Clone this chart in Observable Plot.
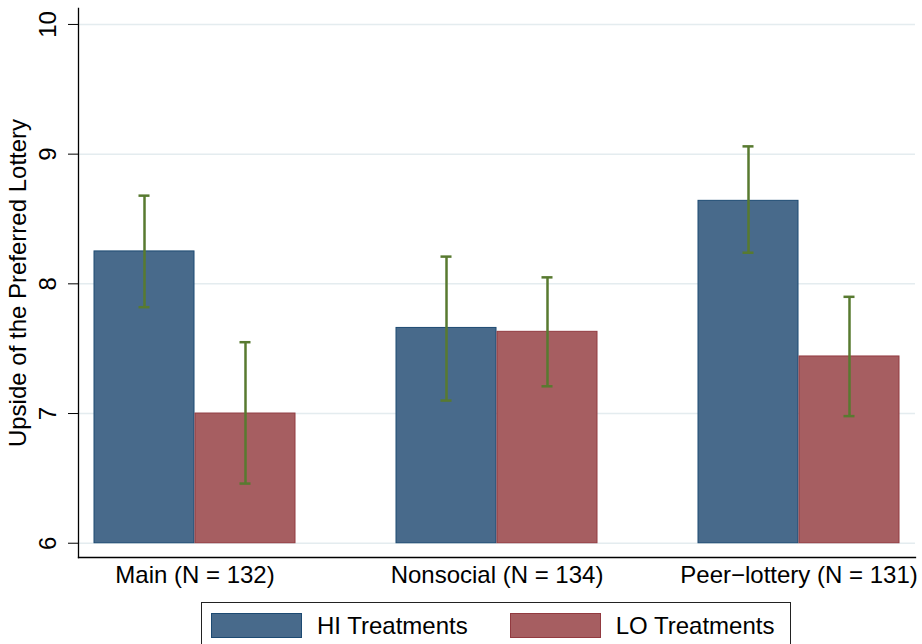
<!DOCTYPE html>
<html>
<head>
<meta charset="utf-8">
<script src="https://cdn.jsdelivr.net/npm/d3@7"></script>
<script src="https://cdn.jsdelivr.net/npm/@observablehq/plot@0.6"></script>
<style>
  html, body { margin: 0; padding: 0; background: #fff; }
  body { width: 922px; height: 644px; position: relative; overflow: hidden;
         font-family: "Liberation Sans", Arial, Helvetica, sans-serif; }
  #chart { position: absolute; left: 0; top: 0; }
  #legend { position: absolute; left: 201px; top: 602px; width: 590px; height: 60px;
            border: 1.3px solid #222; box-sizing: border-box; display: flex;
            align-items: flex-start; padding: 10px 0 0 9px; }
  .item { display: flex; align-items: center; height: 25px; }
  .item + .item { margin-left: 42px; }
  .swatch { width: 91px; height: 25px; box-sizing: border-box; margin-right: 15px; }
  .label { font-size: 24px; color: #000; line-height: 25px; }
</style>
</head>
<body>
<div id="chart"></div>
<div id="legend"></div>
<script>
// Treatment groups (with sample sizes) and the two series within each group
const groups = ["Main (N = 132)", "Nonsocial (N = 134)", "Peer\u2212lottery (N = 131)"];
const series = ["HI Treatments", "LO Treatments"];

// Mean upside of the preferred lottery, with confidence-interval bounds
const hiMeans = [8.25, 7.66, 8.64];
const hiLower = [7.82, 7.10, 8.24];
const hiUpper = [8.68, 8.21, 9.06];
const loMeans = [7.00, 7.63, 7.44];
const loLower = [6.46, 7.21, 6.98];
const loUpper = [7.55, 8.05, 7.90];

const yTicks = [6, 7, 8, 9, 10];
const baseline = 6;

const fills = ["#486a8b", "#a65e61"];
const strokes = ["#1d4a72", "#923a40"];
const ciColor = "#587a30";
const capWidth = 12;

const W = 922, H = 592, mL = 78, mR = 7, mT = 8, mB = 35;

// Group band scale; each band holds the HI bar (left half) and LO bar (right half)
const xOptions = {domain: groups, paddingInner: 0.333, paddingOuter: 0.0485, axis: null, label: null};
const bw = Plot.scale({x: {type: "band", ...xOptions, range: [mL, W - mR]}}).bandwidth;
const half = bw / 2;

const hiRows = groups.map((g, i) => ({group: g, value: hiMeans[i], lo: hiLower[i], hi: hiUpper[i]}));
const loRows = groups.map((g, i) => ({group: g, value: loMeans[i], lo: loLower[i], hi: loUpper[i]}));

function seriesMarks(rows, k) {
  // k = 0 draws in the left half of the band, k = 1 in the right half
  const barInset = k === 0 ? {insetRight: half} : {insetLeft: half};
  const capInset = k === 0
    ? {insetLeft: half / 2 - capWidth / 2, insetRight: half * 1.5 - capWidth / 2}
    : {insetLeft: half * 1.5 - capWidth / 2, insetRight: half / 2 - capWidth / 2};
  const shift = (k === 0 ? -1 : 1) * half / 2;
  return [
    Plot.barY(rows, {x: "group", y1: baseline, y2: "value", fill: fills[k], stroke: strokes[k], strokeWidth: 1, ...barInset}),
    Plot.ruleX(rows, {x: "group", y1: "lo", y2: "hi", dx: shift, stroke: ciColor, strokeWidth: 2.5}),
    Plot.tickY(rows, {x: "group", y: "lo", stroke: ciColor, strokeWidth: 2.5, ...capInset}),
    Plot.tickY(rows, {x: "group", y: "hi", stroke: ciColor, strokeWidth: 2.5, ...capInset})
  ];
}

const chart = Plot.plot({
  width: W,
  height: H,
  marginLeft: mL,
  marginRight: mR,
  marginTop: mT,
  marginBottom: mB,
  style: {fontFamily: "'Liberation Sans', Arial, Helvetica, sans-serif", fontSize: "24px", color: "#000", background: "#fff"},
  x: {...xOptions, padding: undefined},
  y: {domain: [5.89, 10.123], axis: null},
  marks: [
    Plot.gridY(yTicks, {stroke: "#e4ecef", strokeOpacity: 1, strokeWidth: 1.5}),
    ...seriesMarks(hiRows, 0),
    ...seriesMarks(loRows, 1),
    Plot.frame({anchor: "left", stroke: "#000", strokeWidth: 1.3}),
    Plot.frame({anchor: "bottom", stroke: "#000", strokeWidth: 1.3}),
    Plot.axisY({
      ticks: yTicks, tickFormat: d3.format("d"), tickSize: 10, tickPadding: 13, tickRotate: -90,
      fontSize: 24, stroke: "#000",
      label: "Upside of the Preferred Lottery", labelAnchor: "center", labelArrow: "none", labelOffset: 70
    }),
    Plot.axisX({tickSize: 0, tickPadding: 8, fontSize: 24, label: null})
  ]
});
document.getElementById("chart").appendChild(chart);

// Legend below the plot, one swatch per series
const legend = document.getElementById("legend");
series.forEach((s, i) => {
  const item = document.createElement("div");
  item.className = "item";
  const sw = document.createElement("div");
  sw.className = "swatch";
  sw.style.background = fills[i];
  sw.style.border = "1px solid " + strokes[i];
  const lab = document.createElement("span");
  lab.className = "label";
  lab.textContent = s;
  item.appendChild(sw);
  item.appendChild(lab);
  legend.appendChild(item);
});
</script>
</body>
</html>
